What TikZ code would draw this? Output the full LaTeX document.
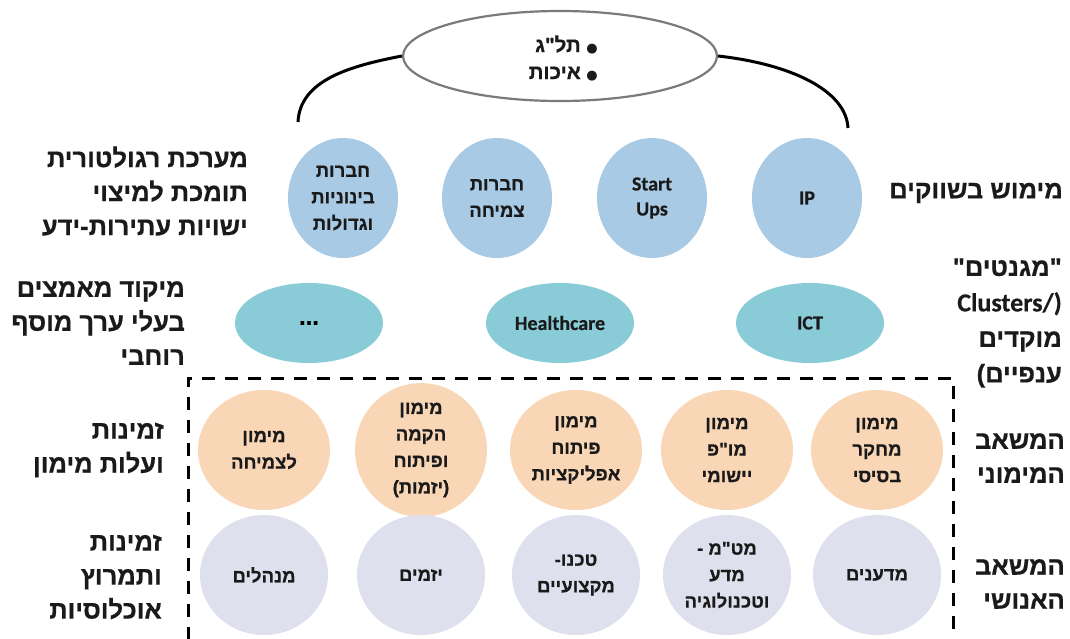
\documentclass[tikz,border=0pt]{standalone}
\usepackage{fontspec}
\usetikzlibrary{shapes.geometric}
\newfontfamily\hebfont[Script=Hebrew, BoldFeatures={FakeBold=0.6}]{Liberation Sans}
\newfontfamily\enfont[BoldFeatures={FakeBold=0.4}]{Carlito}
\newfontfamily\symfont{DejaVu Sans}
\setmainfont[Script=Hebrew]{Liberation Sans}
\TeXXeTstate=1
\newcommand{\heb}[1]{\beginR #1\endR}
\newcommand{\bul}{{\symfont\fontsize{13}{13}\selectfont ●}}
\definecolor{cblue}{HTML}{A8CAE4}
\definecolor{cteal}{HTML}{89CCD8}
\definecolor{cpeach}{HTML}{F8D6B6}
\definecolor{clav}{HTML}{DFE0EE}
\definecolor{cgray}{HTML}{7A7A7A}
\definecolor{ctext}{HTML}{1A1A1A}
\tikzset{
  lbl/.style={font=\hebfont\bfseries\fontsize{25.5}{34}\selectfont, align=right, anchor=east, inner sep=0, text=ctext},
  ctx/.style={font=\hebfont\bfseries\fontsize{18.5}{26.5}\selectfont, align=center, text=ctext},
  etx/.style={font=\enfont\bfseries\fontsize{20}{25}\selectfont, align=center, text=ctext},
  bubble/.style={ellipse, inner sep=0, draw=none},
  rowone/.style={bubble, fill=cblue, minimum width=110, minimum height=120},
  rowtwo/.style={bubble, fill=cteal, minimum width=148, minimum height=80},
  rowthree/.style={bubble, fill=cpeach, minimum width=132, minimum height=120},
  rowfour/.style={bubble, fill=clav, minimum width=128, minimum height=120},
  arcline/.style={line width=3pt, black},
  frame/.style={line width=3pt, black, dash pattern=on 13pt off 10pt}
}
\begin{document}
\begin{tikzpicture}[x=1pt, y=-1pt]
\useasboundingbox (0,0) rectangle (1070,638);

% top ellipse and arcs
\coordinate (la) at (298,122);
\coordinate (ra) at (848,128);
\node[ellipse, draw=cgray, line width=2.2pt, fill=white, minimum width=314, minimum height=90, inner sep=0] (top) at (560,56) {};
\draw[arcline] (la) .. controls (300,80) and (350,66) .. (top.west);
\draw[arcline] (top.east) .. controls (790,64) and (846,90) .. (ra);
\node[font=\hebfont\bfseries\fontsize{20.5}{27}\selectfont, align=right, anchor=east, inner sep=0, text=ctext] (toptext) at (598,58)
  {\heb{תל"ג}\ \bul\\ \heb{איכות}\ \bul};

% row 1
\node[rowone, etx] (ip) at (807,198) {IP};
\node[rowone, etx] (su) at (652,198) {Start\\Ups};
\node[rowone, ctx] (tz) at (497,198) {\heb{חברות}\\\heb{צמיחה}};
\node[rowone, ctx] (bg) at (343,198) {\heb{חברות}\\\heb{בינוניות}\\\heb{וגדולות}};
\node[lbl] (l1r) at (1063,193) {\heb{מימוש בשווקים}};
\node[lbl] (l1l) at (248,191) {\heb{מערכת רגולטורית}\\\heb{תומכת למיצוי}\\\heb{ישויות עתירות-ידע}};

% row 2
\node[rowtwo, etx] (ict) at (810,323) {ICT};
\node[rowtwo, etx] (hc) at (560,323) {Healthcare};
\node[rowtwo, font=\hebfont\bfseries\fontsize{24}{24}\selectfont] (dots) at (309,323) {...};
\node[lbl] (l2l) at (185,323) {\heb{מיקוד מאמצים}\\\heb{בעלי ערך מוסף}\\\heb{רוחבי}};
\node[lbl, font=\hebfont\bfseries\fontsize{25.5}{35.5}\selectfont] (l2r) at (1062,323)
  {\heb{"מגנטים"}\\{\enfont\fontsize{26}{26}\selectfont Clusters/)}\\\heb{מוקדים}\\)\heb{ענפיים}};

% dashed frame
\coordinate (fbl) at (188,640);
\coordinate (ftl) at (188,378);
\coordinate (ftr) at (953,378);
\coordinate (fbr) at (953,640);
\draw[frame] (fbl) -- (ftl) -- (ftr) -- (fbr);

% row 3
\node[rowthree, ctx] (f1) at (877,450) {\heb{מימון}\\\heb{מחקר}\\\heb{בסיסי}};
\node[rowthree, ctx] (f2) at (727,450) {\heb{מימון}\\\heb{מו"פ}\\\heb{יישומי}};
\node[rowthree, ctx] (f3) at (576,450) {\heb{מימון}\\\heb{פיתוח}\\\heb{אפליקציות}};
\node[rowthree, ctx] (f4) at (421,450) {\heb{מימון}\\\heb{הקמה}\\\heb{ופיתוח}\\)\heb{יזמות}(};
\node[rowthree, ctx] (f5) at (264,450) {\heb{מימון}\\\heb{לצמיחה}};
\node[lbl] (l3r) at (1065,458) {\heb{המשאב}\\\heb{המימוני}};
\node[lbl] (l3l) at (164,450) {\heb{זמינות}\\\heb{ועלות מימון}};

% row 4
\node[rowfour, ctx] (h1) at (877,575) {\heb{מדענים}};
\node[rowfour, ctx] (h2) at (727,575) {-\ \heb{מט"מ}\\\heb{מדע}\\\heb{וטכנולוגיה}};
\node[rowfour, ctx] (h3) at (576,575) {-\heb{טכנו}\\\heb{מקצועיים}};
\node[rowfour, ctx] (h4) at (421,575) {\heb{יזמים}};
\node[rowfour, ctx] (h5) at (264,575) {\heb{מנהלים}};
\node[lbl] (l4r) at (1065,584) {\heb{המשאב}\\\heb{האנושי}};
\node[lbl] (l4l) at (162,577) {\heb{זמינות}\\\heb{ותמרוץ}\\\heb{אוכלוסיות}};
\end{tikzpicture}
\end{document}
